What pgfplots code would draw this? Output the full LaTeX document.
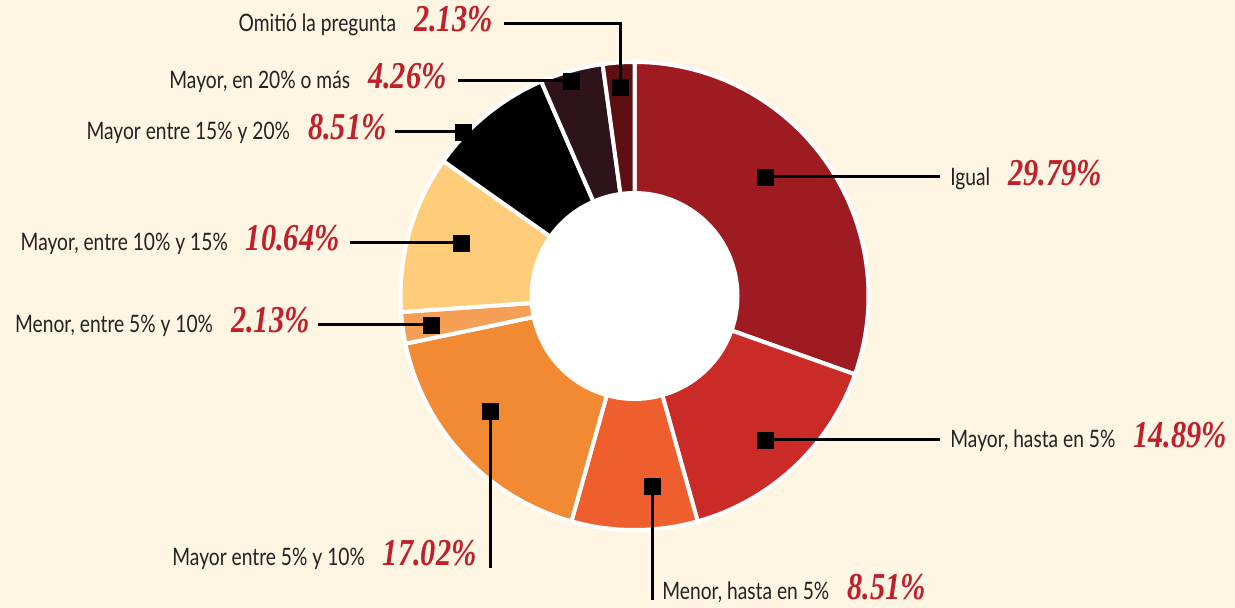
\documentclass[border=0pt]{standalone}
\usepackage{fontspec}
\setmainfont{Lato}[FakeStretch=0.8]
\newfontfamily\pctfont{Liberation Serif}[FakeStretch=0.8]
\usepackage{pgfplots}
\pgfplotsset{compat=1.18}
\definecolor{bg}{HTML}{FFF5E3}
\definecolor{cA}{HTML}{9E1B21}
\definecolor{cB}{HTML}{CB2B27}
\definecolor{cC}{HTML}{EF5F2D}
\definecolor{cD}{HTML}{F28A33}
\definecolor{cE}{HTML}{F59E55}
\definecolor{cF}{HTML}{FFCC7A}
\definecolor{cG}{HTML}{000000}
\definecolor{cH}{HTML}{2F131A}
\definecolor{cI}{HTML}{5C1010}
\definecolor{pct}{HTML}{C0202A}
\definecolor{txt}{HTML}{222222}
% slice values (percent)
\def\vA{29.79}\def\vB{14.89}\def\vC{8.51}\def\vD{17.02}\def\vE{2.13}
\def\vF{10.64}\def\vG{8.51}\def\vH{4.26}\def\vI{2.13}
\pgfmathsetmacro\tot{\vA+\vB+\vC+\vD+\vE+\vF+\vG+\vH+\vI}
\pgfmathsetmacro\aA{90}
\pgfmathsetmacro\aB{\aA-\vA/\tot*360}
\pgfmathsetmacro\aC{\aB-\vB/\tot*360}
\pgfmathsetmacro\aD{\aC-\vC/\tot*360}
\pgfmathsetmacro\aE{\aD-\vD/\tot*360}
\pgfmathsetmacro\aF{\aE-\vE/\tot*360}
\pgfmathsetmacro\aG{\aF-\vF/\tot*360}
\pgfmathsetmacro\aH{\aG-\vG/\tot*360}
\pgfmathsetmacro\aI{\aH-\vH/\tot*360}
\pgfmathsetmacro\aJ{\aI-\vI/\tot*360}
\def\cx{634.5}\def\cy{296}\def\R{234}\def\r{104}
\newcommand\lab[2]{{\color{txt}\fontsize{12}{14}\selectfont #1}\hspace{9pt}{\pctfont\bfseries\itshape\fontsize{19}{21}\selectfont\color{pct}#2}}
\begin{document}
\begin{tikzpicture}
\begin{axis}[
  scale only axis, width=617.5pt, height=304pt,
  xmin=0, xmax=1235, ymin=0, ymax=608, y dir=reverse,
  hide axis, clip=false,
  axis background/.style={fill=bg},
]
\path[fill=bg] (axis cs:0,0) rectangle (axis cs:1235,608);
\pgfplotsset{slice/.style={draw=white, line width=2pt, samples=60, variable=\t}}
\addplot[slice, fill=cA, domain=\aB:\aA] ({\cx+\R*cos(\t)},{\cy-\R*sin(\t)}) -- (axis cs:\cx,\cy) -- cycle;
\addplot[slice, fill=cB, domain=\aC:\aB] ({\cx+\R*cos(\t)},{\cy-\R*sin(\t)}) -- (axis cs:\cx,\cy) -- cycle;
\addplot[slice, fill=cC, domain=\aD:\aC] ({\cx+\R*cos(\t)},{\cy-\R*sin(\t)}) -- (axis cs:\cx,\cy) -- cycle;
\addplot[slice, fill=cD, domain=\aE:\aD] ({\cx+\R*cos(\t)},{\cy-\R*sin(\t)}) -- (axis cs:\cx,\cy) -- cycle;
\addplot[slice, fill=cE, domain=\aF:\aE] ({\cx+\R*cos(\t)},{\cy-\R*sin(\t)}) -- (axis cs:\cx,\cy) -- cycle;
\addplot[slice, fill=cF, domain=\aG:\aF] ({\cx+\R*cos(\t)},{\cy-\R*sin(\t)}) -- (axis cs:\cx,\cy) -- cycle;
\addplot[slice, fill=cG, domain=\aH:\aG] ({\cx+\R*cos(\t)},{\cy-\R*sin(\t)}) -- (axis cs:\cx,\cy) -- cycle;
\addplot[slice, fill=cH, domain=\aI:\aH] ({\cx+\R*cos(\t)},{\cy-\R*sin(\t)}) -- (axis cs:\cx,\cy) -- cycle;
\addplot[slice, fill=cI, domain=\aJ:\aI] ({\cx+\R*cos(\t)},{\cy-\R*sin(\t)}) -- (axis cs:\cx,\cy) -- cycle;
\addplot[fill=white, draw=white, line width=1pt, domain=0:360, samples=120, variable=\t] ({\cx+\r*cos(\t)},{\cy-\r*sin(\t)}) -- cycle;
% leader lines
\pgfplotsset{lead/.style={black, line width=1.5pt, mark=none}}
\addplot[lead] coordinates {(765,177) (940,177)};
\addplot[lead] coordinates {(765,440) (940,440)};
\addplot[lead] coordinates {(652,486) (652,600)};
\addplot[lead] coordinates {(490,411) (490,568)};
\addplot[lead] coordinates {(431,325) (318,325)};
\addplot[lead] coordinates {(461,243) (350,243)};
\addplot[lead] coordinates {(463,132) (395,132)};
\addplot[lead] coordinates {(571,81) (458,81)};
\addplot[lead] coordinates {(620,87) (620,24) (504,24)};
% markers
\addplot[only marks, mark=square*, mark size=4pt, black] coordinates {
 (765,177) (765,440) (652,486) (490,411) (431,325) (461,243) (463,132) (571,81) (620,87)};
% labels
\node[anchor=base west, inner sep=0pt] at (axis cs:950,186) {\lab{Igual}{29.79\%}};
\node[anchor=base west, inner sep=0pt] at (axis cs:950,448) {\lab{Mayor, hasta en 5\%}{14.89\%}};
\node[anchor=base west, inner sep=0pt] at (axis cs:662,599) {\lab{Menor, hasta en 5\%}{8.51\%}};
\node[anchor=base east, inner sep=0pt] at (axis cs:477,565) {\lab{Mayor entre 5\% y 10\%}{17.02\%}};
\node[anchor=base east, inner sep=0pt] at (axis cs:310,333) {\lab{Menor, entre 5\% y 10\%}{2.13\%}};
\node[anchor=base east, inner sep=0pt] at (axis cs:340,251) {\lab{Mayor, entre 10\% y 15\%}{10.64\%}};
\node[anchor=base east, inner sep=0pt] at (axis cs:387,140) {\lab{Mayor entre 15\% y 20\%}{8.51\%}};
\node[anchor=base east, inner sep=0pt] at (axis cs:447,89) {\lab{Mayor, en 20\% o más}{4.26\%}};
\node[anchor=base east, inner sep=0pt] at (axis cs:493,32) {\lab{Omitió la pregunta}{2.13\%}};
\end{axis}
\end{tikzpicture}
\end{document}
